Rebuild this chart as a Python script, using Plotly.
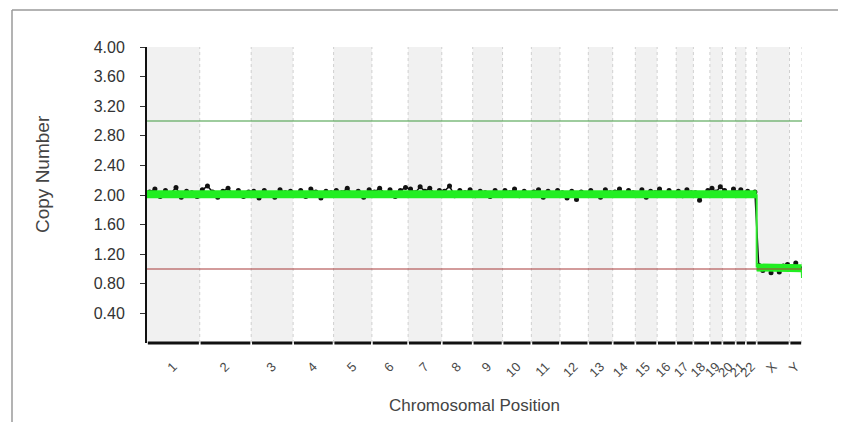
import plotly.graph_objects as go

# ---------------- data ----------------
chrom_labels = [str(i) for i in range(1, 23)] + ["X", "Y"]
# chromosome widths on the position axis (Mb)
chrom_lengths = [249, 243, 198, 191, 181, 171, 159, 146, 141, 136, 135, 134,
                 115, 107, 103, 90, 81, 78, 59, 63, 48, 51, 155, 59]

# raw copy-number probes (black), read per chromosome
probe_cn = [
    [2.04, 2.08, 1.98, 2.06, 2.02, 2.10, 1.97, 2.05, 2.03, 1.98],
    [2.07, 2.12, 2.04, 1.97, 2.05, 2.09, 2.01, 2.06, 1.98, 2.04],
    [2.05, 1.96, 2.06, 2.02, 1.97, 2.07, 2.03, 2.05],
    [2.02, 2.06, 1.98, 2.08, 2.04, 1.96, 2.05, 2.03],
    [2.06, 2.03, 2.09, 2.01, 2.05, 1.97, 2.07],
    [2.04, 2.09, 2.02, 2.07, 1.98, 2.06, 2.10],
    [2.08, 2.03, 2.11, 2.05, 2.09, 2.02, 2.06],
    [2.05, 2.12, 1.99, 2.06, 2.03, 2.07],
    [1.99, 2.05, 2.03, 1.98, 2.06, 2.02],
    [2.06, 2.03, 2.08, 1.99, 2.05, 2.02],
    [2.04, 2.07, 1.97, 2.05, 2.02, 2.06],
    [2.03, 1.96, 2.05, 1.94, 2.04, 2.01],
    [2.06, 2.02, 1.97, 2.07, 2.03],
    [2.04, 2.08, 2.01, 2.06, 2.03],
    [2.02, 2.07, 1.97, 2.05, 2.03],
    [2.08, 2.02, 2.06, 2.01],
    [2.05, 1.99, 2.07, 2.03],
    [2.03, 1.93, 2.01, 2.06],
    [2.09, 2.04, 2.11],
    [2.06, 2.01, 2.08],
    [2.03, 2.07, 2.02],
    [2.05, 2.01, 2.04],
    [1.05, 0.98, 1.03, 0.95, 1.02, 0.96, 1.04, 1.06],
    [1.03, 1.08, 1.01],
]

# segmented copy number (green): autosomes, X, Y
segment_cn = [2.01] * 22 + [1.02, 1.01]
y_tail_cn = 0.88          # value at very end of Y

gain_line = 3.0
loss_line = 1.0
y_ticks = [0.4, 0.8, 1.2, 1.6, 2.0, 2.4, 2.8, 3.2, 3.6, 4.0]

# ---------------- derived positions ----------------
starts = []
acc = 0
for L in chrom_lengths:
    starts.append(acc)
    acc += L
total = acc
centers = [s + L / 2 for s, L in zip(starts, chrom_lengths)]

px_x, px_y = [], []
for s, L, vals in zip(starts, chrom_lengths, probe_cn):
    n = len(vals)
    for i, v in enumerate(vals):
        px_x.append(s + (i + 0.5) / n * L)
        px_y.append(v)

auto_end = starts[22]
gx = [0, auto_end, None, starts[22], starts[23], starts[23] + chrom_lengths[23] * 0.97]
gy = [segment_cn[0], segment_cn[21], None, segment_cn[22], segment_cn[23], segment_cn[23]]
tx = [auto_end, auto_end, None, starts[23] + chrom_lengths[23] * 0.97, total]
ty = [segment_cn[21], segment_cn[22], None, segment_cn[23], y_tail_cn]

fig = go.Figure()

fig.add_trace(go.Scatter(x=px_x, y=px_y, mode="lines+markers",
                         line=dict(color="#111111", width=1.5),
                         marker=dict(color="#111111", size=5),
                         hoverinfo="skip", showlegend=False))
fig.add_trace(go.Scatter(x=tx, y=ty, mode="lines",
                         line=dict(color="#2ee82e", width=2),
                         hoverinfo="skip", showlegend=False))
fig.add_trace(go.Scatter(x=gx, y=gy, mode="lines",
                         line=dict(color="#22ee22", width=8),
                         hoverinfo="skip", showlegend=False))

shapes = []
for i, (s, L) in enumerate(zip(starts, chrom_lengths)):
    if i % 2 == 0:
        shapes.append(dict(type="rect", xref="x", yref="y", x0=s, x1=s + L, y0=0, y1=4,
                           fillcolor="#f1f1f1", line=dict(width=0), layer="below"))
for s in starts[1:] + [total]:
    shapes.append(dict(type="line", xref="x", yref="y", x0=s, x1=s, y0=0, y1=4,
                       line=dict(color="#d0d0d0", width=1, dash="dot"), layer="below"))
shapes.append(dict(type="line", xref="x", yref="y", x0=0, x1=total, y0=gain_line, y1=gain_line,
                   line=dict(color="#3f9a3f", width=1.2)))
shapes.append(dict(type="line", xref="x", yref="y", x0=0, x1=total, y0=loss_line, y1=loss_line,
                   line=dict(color="#a83a3a", width=1.2)))
for s, L in zip(starts, chrom_lengths):
    shapes.append(dict(type="line", xref="x", yref="paper", x0=s + 4, x1=s + L - 4, y0=0, y1=0,
                       line=dict(color="#111111", width=3)))

# page has an 8px body margin; lay out in page pixels
OFF = 8
W, H = 846 - 2 * OFF, 430 - 2 * OFF
ml, mt = 147 - OFF, 47 - OFF
pw, ph = 655, 296
mr, mb = W - ml - pw, H - mt - ph
def pxx(p): return (p - OFF - ml) / pw
def pxy(p): return (mt + ph - (p - OFF)) / ph
shapes.append(dict(type="line", xref="paper", yref="paper", x0=pxx(12), x1=pxx(850), y0=pxy(10), y1=pxy(10),
                   line=dict(color="#9a9a9a", width=1.5)))
shapes.append(dict(type="line", xref="paper", yref="paper", x0=pxx(12), x1=pxx(12), y0=pxy(10), y1=pxy(440),
                   line=dict(color="#9a9a9a", width=1.5)))

fig.update_layout(
    width=W, height=H,
    margin=dict(l=ml, r=mr, t=mt, b=mb),
    paper_bgcolor="white", plot_bgcolor="white",
    font=dict(family="Liberation Sans, Arial, sans-serif", color="#333333"),
    shapes=shapes,
    xaxis=dict(range=[0, total], showgrid=False, zeroline=False, showline=False,
               tickvals=centers, ticktext=chrom_labels, tickangle=-45,
               ticks="outside", ticklen=10, tickcolor="rgba(0,0,0,0)",
               tickfont=dict(size=13, color="#4a4a4a")),
    yaxis=dict(range=[0, 4], showgrid=False, zeroline=False, showline=True,
               linecolor="#111111", linewidth=2, ticks="outside", ticklen=5,
               tickcolor="#333333", tickvals=y_ticks,
               ticktext=["%.2f" % v for v in y_ticks],
               ticklabelstandoff=12,
               tickfont=dict(size=16, color="#333333")),
    annotations=[
        dict(text="Chromosomal Position", xref="paper", yref="paper",
             x=0.5, y=pxy(405), xanchor="center", yanchor="middle", showarrow=False,
             font=dict(size=17, color="#444444")),
        dict(text="Copy Number", xref="paper", yref="paper", textangle=-90,
             x=pxx(42), y=pxy(174), xanchor="center", yanchor="middle", showarrow=False,
             font=dict(size=19, color="#444444")),
    ],
)

fig.write_html("out.html")
